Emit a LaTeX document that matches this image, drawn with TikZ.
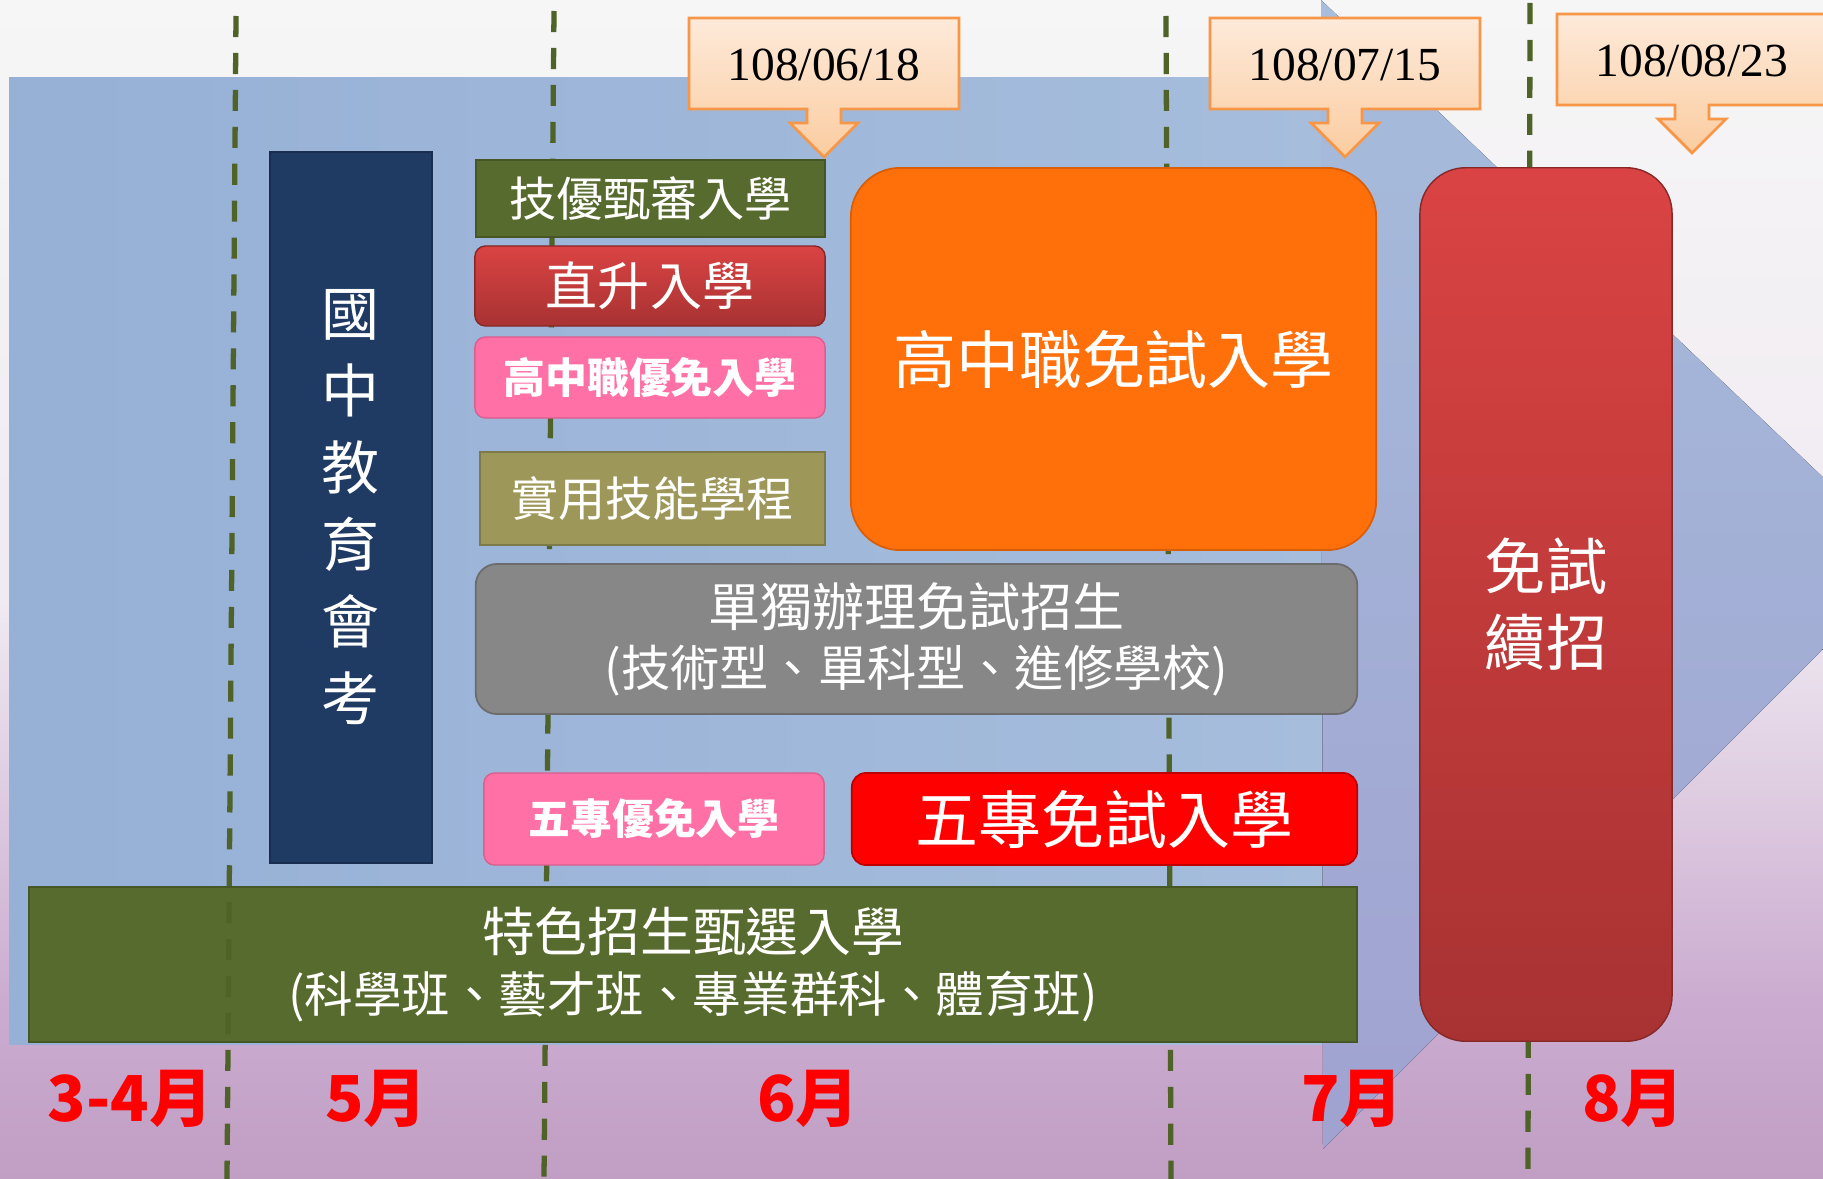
\documentclass[tikz,border=0pt]{standalone}
\usepackage{fontspec}
\setmainfont{Noto Sans CJK TC}
\newfontfamily\datefont{Liberation Serif}
\usetikzlibrary{calc}

\definecolor{navy}{RGB}{31,58,99}
\definecolor{olive}{RGB}{88,107,46}
\definecolor{khaki}{RGB}{158,151,90}
\definecolor{pinkbox}{RGB}{255,112,166}
\definecolor{orangebox}{RGB}{255,111,10}
\definecolor{graybox}{RGB}{135,135,135}
\definecolor{redtop}{RGB}{218,67,67}
\definecolor{redbot}{RGB}{168,50,50}
\definecolor{dashgreen}{RGB}{79,98,40}
\definecolor{peachtop}{RGB}{253,234,218}
\definecolor{peachbot}{RGB}{251,204,160}
\definecolor{peachline}{RGB}{247,150,70}
\definecolor{skyblue}{RGB}{166,189,220}
\definecolor{skyleft}{RGB}{150,176,214}
\definecolor{paleback}{RGB}{240,234,241}
\definecolor{lilac}{RGB}{203,172,208}
\definecolor{lilacdark}{RGB}{193,158,196}

\begin{document}
\begin{tikzpicture}[x=0.01cm, y=-0.01cm,
    box/.style={inner sep=0pt, align=center, text=white},
    flatbox/.style={box, rectangle, fill=#1, draw=#1!80!black, line width=0.6pt},
    roundbox/.style={box, rounded corners=3pt, draw=redbot!80!black, line width=0.4pt, top color=redtop, bottom color=redbot},
    pinkbox/.style={box, rounded corners=3pt, fill=pinkbox, draw=pinkbox!85!black, line width=0.4pt, font=\fontsize{11.9}{14}\selectfont\bfseries},
    callout/.style={draw=peachline, line width=0.8pt, top color=peachtop, bottom color=peachbot},
    datebox/.style={inner sep=0pt, font=\datefont\fontsize{13.5}{16}\selectfont},
    dashline/.style={draw=dashgreen, line width=1.5pt, dash pattern=on 6pt off 4.5pt},
    month/.style={text=red, font=\fontsize{18}{22}\selectfont\bfseries}
]
\useasboundingbox (0,0) rectangle (1823,1179);
\clip (0,0) rectangle (1823,1179);

% background
\fill[top color=white!93!gray, bottom color=paleback] (0,0) rectangle (1823,600);
\fill[top color=paleback, bottom color=lilac] (0,600) rectangle (1823,1000);
\fill[top color=lilac, bottom color=lilacdark] (0,1000) rectangle (1823,1179);
\fill[left color=skyleft, right color=skyblue] (9,78) rectangle (1325,1044);
\fill[top color=skyblue, bottom color={rgb,255:red,160;green,162;blue,208}] (1321,0) -- (1911,561) -- (1323,1149) -- cycle;

% month boundaries
\draw[dashline] (554,11) -- (544,1179);
\draw[dashline] (1166,16) -- (1171,1179);
\draw[dashline] (1530,3) -- (1528,1179);

% first column
\node[flatbox=navy, minimum width=1.62cm, minimum height=7.11cm,
      font=\fontsize{16.5}{21.9}\selectfont] (exam) at (351,507.5) {國\\中\\教\\育\\會\\考};

% second column
\node[flatbox=olive, minimum width=3.49cm, minimum height=0.77cm,
      font=\fontsize{13.4}{16}\selectfont] (jiyou) at (650.5,198.5) {技優甄審入學};
\node[roundbox, minimum width=3.5cm, minimum height=0.8cm,
      font=\fontsize{14.8}{17}\selectfont] (zhisheng) at (650,286) {直升入學};
\node[pinkbox, minimum width=3.5cm, minimum height=0.81cm] (gaoyou) at (650,377.5) {高中職優免入學};
\node[flatbox=khaki, minimum width=3.45cm, minimum height=0.93cm,
      font=\fontsize{13.4}{16}\selectfont] (shiyong) at (652.5,498.5) {實用技能學程};
\node[pinkbox, minimum width=3.4cm, minimum height=0.92cm] (wuyou) at (654,819) {五專優免入學};

% wide boxes
\node[box, rounded corners=14pt, fill=orangebox, draw=orangebox!85!black, line width=0.5pt,
      minimum width=5.25cm, minimum height=3.82cm,
      font=\fontsize{17.9}{21}\selectfont] (gaomian) at (1113.5,359) {高中職免試入學};
\node[box, rounded corners=6pt, fill=graybox, draw=graybox!80!black, line width=0.5pt,
      minimum width=8.81cm, minimum height=1.5cm,
      font=\fontsize{14.8}{17.1}\selectfont] (dandu) at (916.5,639)
      {單獨辦理免試招生\\{\fontsize{14}{17.1}\selectfont(技術型、單科型、進修學校)}};
\node[box, rounded corners=4pt, fill=red, draw=red!75!black, line width=0.5pt,
      minimum width=5.05cm, minimum height=0.92cm,
      font=\fontsize{17.9}{21}\selectfont] (wumian) at (1104.5,819) {五專免試入學};
\node[flatbox=olive, minimum width=13.28cm, minimum height=1.55cm,
      font=\fontsize{15}{17.1}\selectfont] (tese) at (693,964.5)
      {特色招生甄選入學\\{\fontsize{13.8}{17.1}\selectfont(科學班、藝才班、專業群科、體育班)}};
\node[roundbox, rounded corners=13pt, minimum width=2.52cm, minimum height=8.73cm,
      font=\fontsize{17.4}{21.6}\selectfont] (xuzhao) at (1546,604.5) {免試\\續招};

% date callouts
\foreach \x/\y in {824/63.5, 1345/63.5, 1692/59.5}
  \draw[callout] (\x-135,\y-45.5) -- (\x+135,\y-45.5) -- (\x+135,\y+45.5)
    -- (\x+17,\y+45.5) -- (\x+17,\y+59.5) -- (\x+34,\y+59.5) -- (\x,\y+93.5)
    -- (\x-34,\y+59.5) -- (\x-17,\y+59.5) -- (\x-17,\y+45.5)
    -- (\x-135,\y+45.5) -- cycle;
\node[datebox] (d1) at (824,65) {108/06/18};
\node[datebox] (d2) at (1345,65) {108/07/15};
\node[datebox] (d3) at (1692,61) {108/08/23};

% first boundary runs over the bottom bar
\draw[dashline] (236,16) -- (227,1179);

% months
\node[month] (m34) at (130,1099) {3-4月};
\node[month] (m5) at (376,1099) {5月};
\node[month] (m6) at (808,1099) {6月};
\node[month] (m7) at (1352,1099) {7月};
\node[month] (m8) at (1633,1099) {8月};
\end{tikzpicture}
\end{document}
